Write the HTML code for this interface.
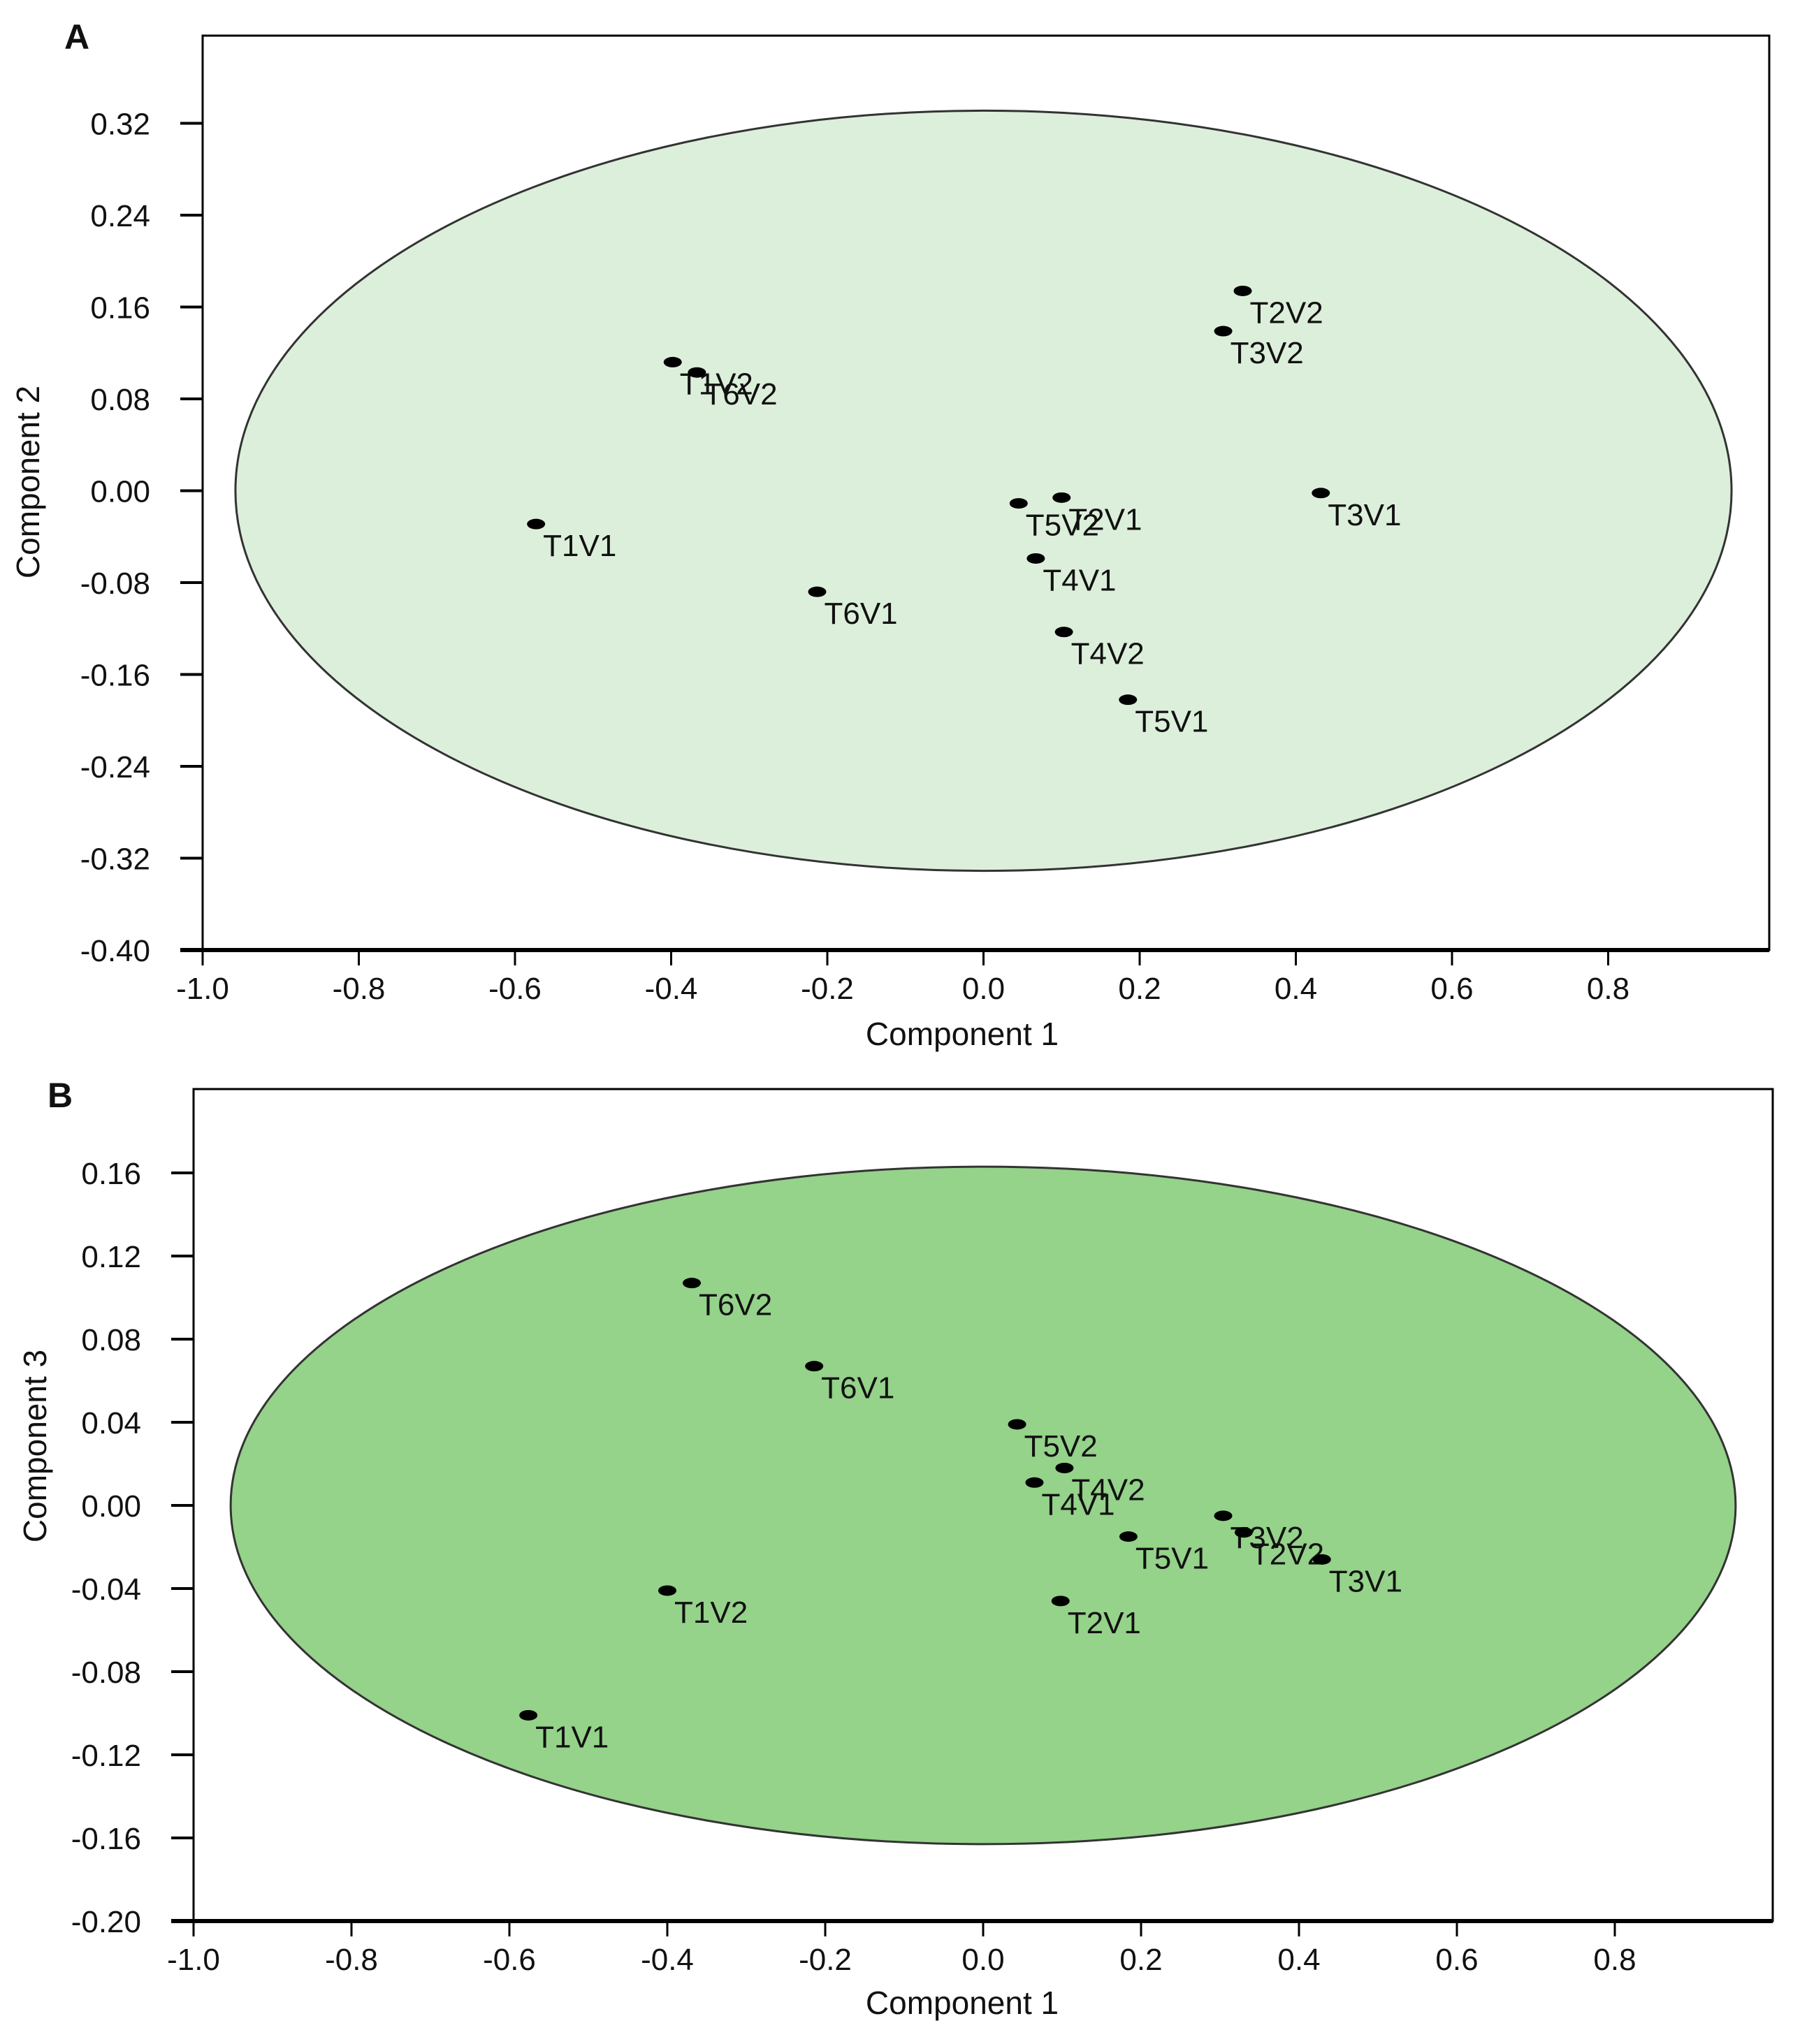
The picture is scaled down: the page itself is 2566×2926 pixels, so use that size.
<!DOCTYPE html>
<html><head><meta charset="utf-8"><style>
html,body{margin:0;padding:0;background:#fff}
svg{display:block}
text{font-family:"Liberation Sans",sans-serif;fill:#111}
</style></head><body>
<svg id="chart" width="2566" height="2926" viewBox="0 0 2566 2926" xmlns="http://www.w3.org/2000/svg"></svg>
<script>
const xTicks = [-1.0,-0.8,-0.6,-0.4,-0.2,0.0,0.2,0.4,0.6,0.8];
const yTicksA = [0.32,0.24,0.16,0.08,0.00,-0.08,-0.16,-0.24,-0.32,-0.40];
const yTicksB = [0.16,0.12,0.08,0.04,0.00,-0.04,-0.08,-0.12,-0.16,-0.20];
const labelsA = ["T1V1","T1V2","T6V2","T6V1","T5V2","T2V1","T4V1","T4V2","T5V1","T3V2","T2V2","T3V1"];
const comp1A = [-0.573,-0.398,-0.367,-0.213,0.045,0.100,0.067,0.103,0.185,0.307,0.332,0.432];
const comp2A = [-0.029,0.112,0.103,-0.088,-0.011,-0.006,-0.059,-0.123,-0.182,0.139,0.174,-0.002];
const labelsB = ["T6V2","T6V1","T5V2","T4V2","T4V1","T3V2","T2V2","T5V1","T3V1","T2V1","T1V2","T1V1"];
const comp1B = [-0.369,-0.214,0.043,0.103,0.065,0.304,0.330,0.184,0.429,0.098,-0.400,-0.576];
const comp3B = [0.107,0.067,0.039,0.018,0.011,-0.005,-0.013,-0.015,-0.026,-0.046,-0.041,-0.101];
const ellipseA = [0, 0, 0.958, 0.331];
const ellipseB = [0, 0, 0.953, 0.163];

const svg = document.getElementById('chart');
const NS = 'http://www.w3.org/2000/svg';
function mk(tag, attrs, parent){
  const e = document.createElementNS(NS, tag);
  for (const k in attrs) e.setAttribute(k, attrs[k]);
  (parent||svg).appendChild(e);
  return e;
}

function panel(cfg){
  const g = mk('g', {});
  
  
  const sx = v => cfg.x0 + (v - (-1.0)) * cfg.xpu;
  const sy = v => cfg.y0 - (v - cfg.ymin) * cfg.ypu;
  // panel letter
  const L = mk('text', {x: cfg.letterX, y: cfg.letterY, 'font-size': 50, 'font-weight': 'bold'}, g);
  L.textContent = cfg.letter;
  
  
  // ellipse
  const el = mk('ellipse', {cx: sx(cfg.ell[0]), cy: sy(cfg.ell[1]), rx: cfg.ell[2]*cfg.xpu, ry: cfg.ell[3]*cfg.ypu, fill: cfg.fill, stroke: '#333', 'stroke-width': 3}, g);
  
  
  // box
  const b = mk('rect', {x: cfg.x0, y: cfg.top, width: cfg.right - cfg.x0, height: cfg.y0 - cfg.top, fill: 'none', stroke: '#000', 'stroke-width': 3}, g);
  
  
  // x axis thick
  const xa = mk('line', {x1: cfg.x0 - 32, x2: cfg.right, y1: cfg.y0, y2: cfg.y0, stroke: '#000', 'stroke-width': 6}, g);
  
  
  xTicks.forEach(t => {
    const X = sx(t);
    const tk = mk('line', {x1: X, x2: X, y1: cfg.y0, y2: cfg.y0 + 22, stroke: '#000', 'stroke-width': 3}, g);
    
    
    const tl = mk('text', {x: X, y: cfg.y0 + 70, 'font-size': 44, 'text-anchor': 'middle'}, g);
    tl.textContent = t.toFixed(1);
    
    
  });
  cfg.yTicks.forEach(t => {
    const Y = sy(t);
    const tk = mk('line', {x1: cfg.x0 - 32, x2: cfg.x0, y1: Y, y2: Y, stroke: '#000', 'stroke-width': 4}, g);
    
    
    const tl = mk('text', {x: cfg.x0 - 75, y: Y + 16, 'font-size': 44, 'text-anchor': 'end'}, g);
    tl.textContent = t.toFixed(2);
    
    
  });
  const xt = mk('text', {x: 1377, y: cfg.xTitleY, 'font-size': 46, 'text-anchor': 'middle'}, g);
  xt.textContent = 'Component 1';
  
  
  const yt = mk('text', {x: 0, y: 0, 'font-size': 46, 'text-anchor': 'middle', transform: `translate(${cfg.yTitleX},${cfg.yTitleY}) rotate(-90)`}, g);
  yt.textContent = cfg.yTitle;
  
  
  cfg.labels.forEach((lab, i) => {
    const X = sx(cfg.xs[i]), Y = sy(cfg.ys[i]);
    const d = mk('ellipse', {cx: X, cy: Y, rx: 13, ry: 7.5, fill: '#000'}, g);
    
    
    const t = mk('text', {x: X + 10, y: Y + 46, 'font-size': 44}, g);
    t.textContent = lab;
    
    
  });
}

panel({name:'panel-a', letter:'A', letterX:92, letterY:70, x0:290, xpu:1117.5, y0:1360, ymin:-0.40, ypu:131.5/0.08,
  top:51, right:2532, fill:'#dcefdb', ell:ellipseA, yTicks:yTicksA, labels:labelsA, xs:comp1A, ys:comp2A,
  xTitleY:1496, yTitleX:56, yTitleY:690, yTitle:'Component 2'});
panel({name:'panel-b', letter:'B', letterX:68, letterY:1585, x0:277, xpu:1130, y0:2750, ymin:-0.20, ypu:119/0.04,
  top:1559, right:2537, fill:'#95d28a', ell:ellipseB, yTicks:yTicksB, labels:labelsB, xs:comp1B, ys:comp3B,
  xTitleY:2883, yTitleX:66, yTitleY:2070, yTitle:'Component 3'});
</script>
</body></html>
